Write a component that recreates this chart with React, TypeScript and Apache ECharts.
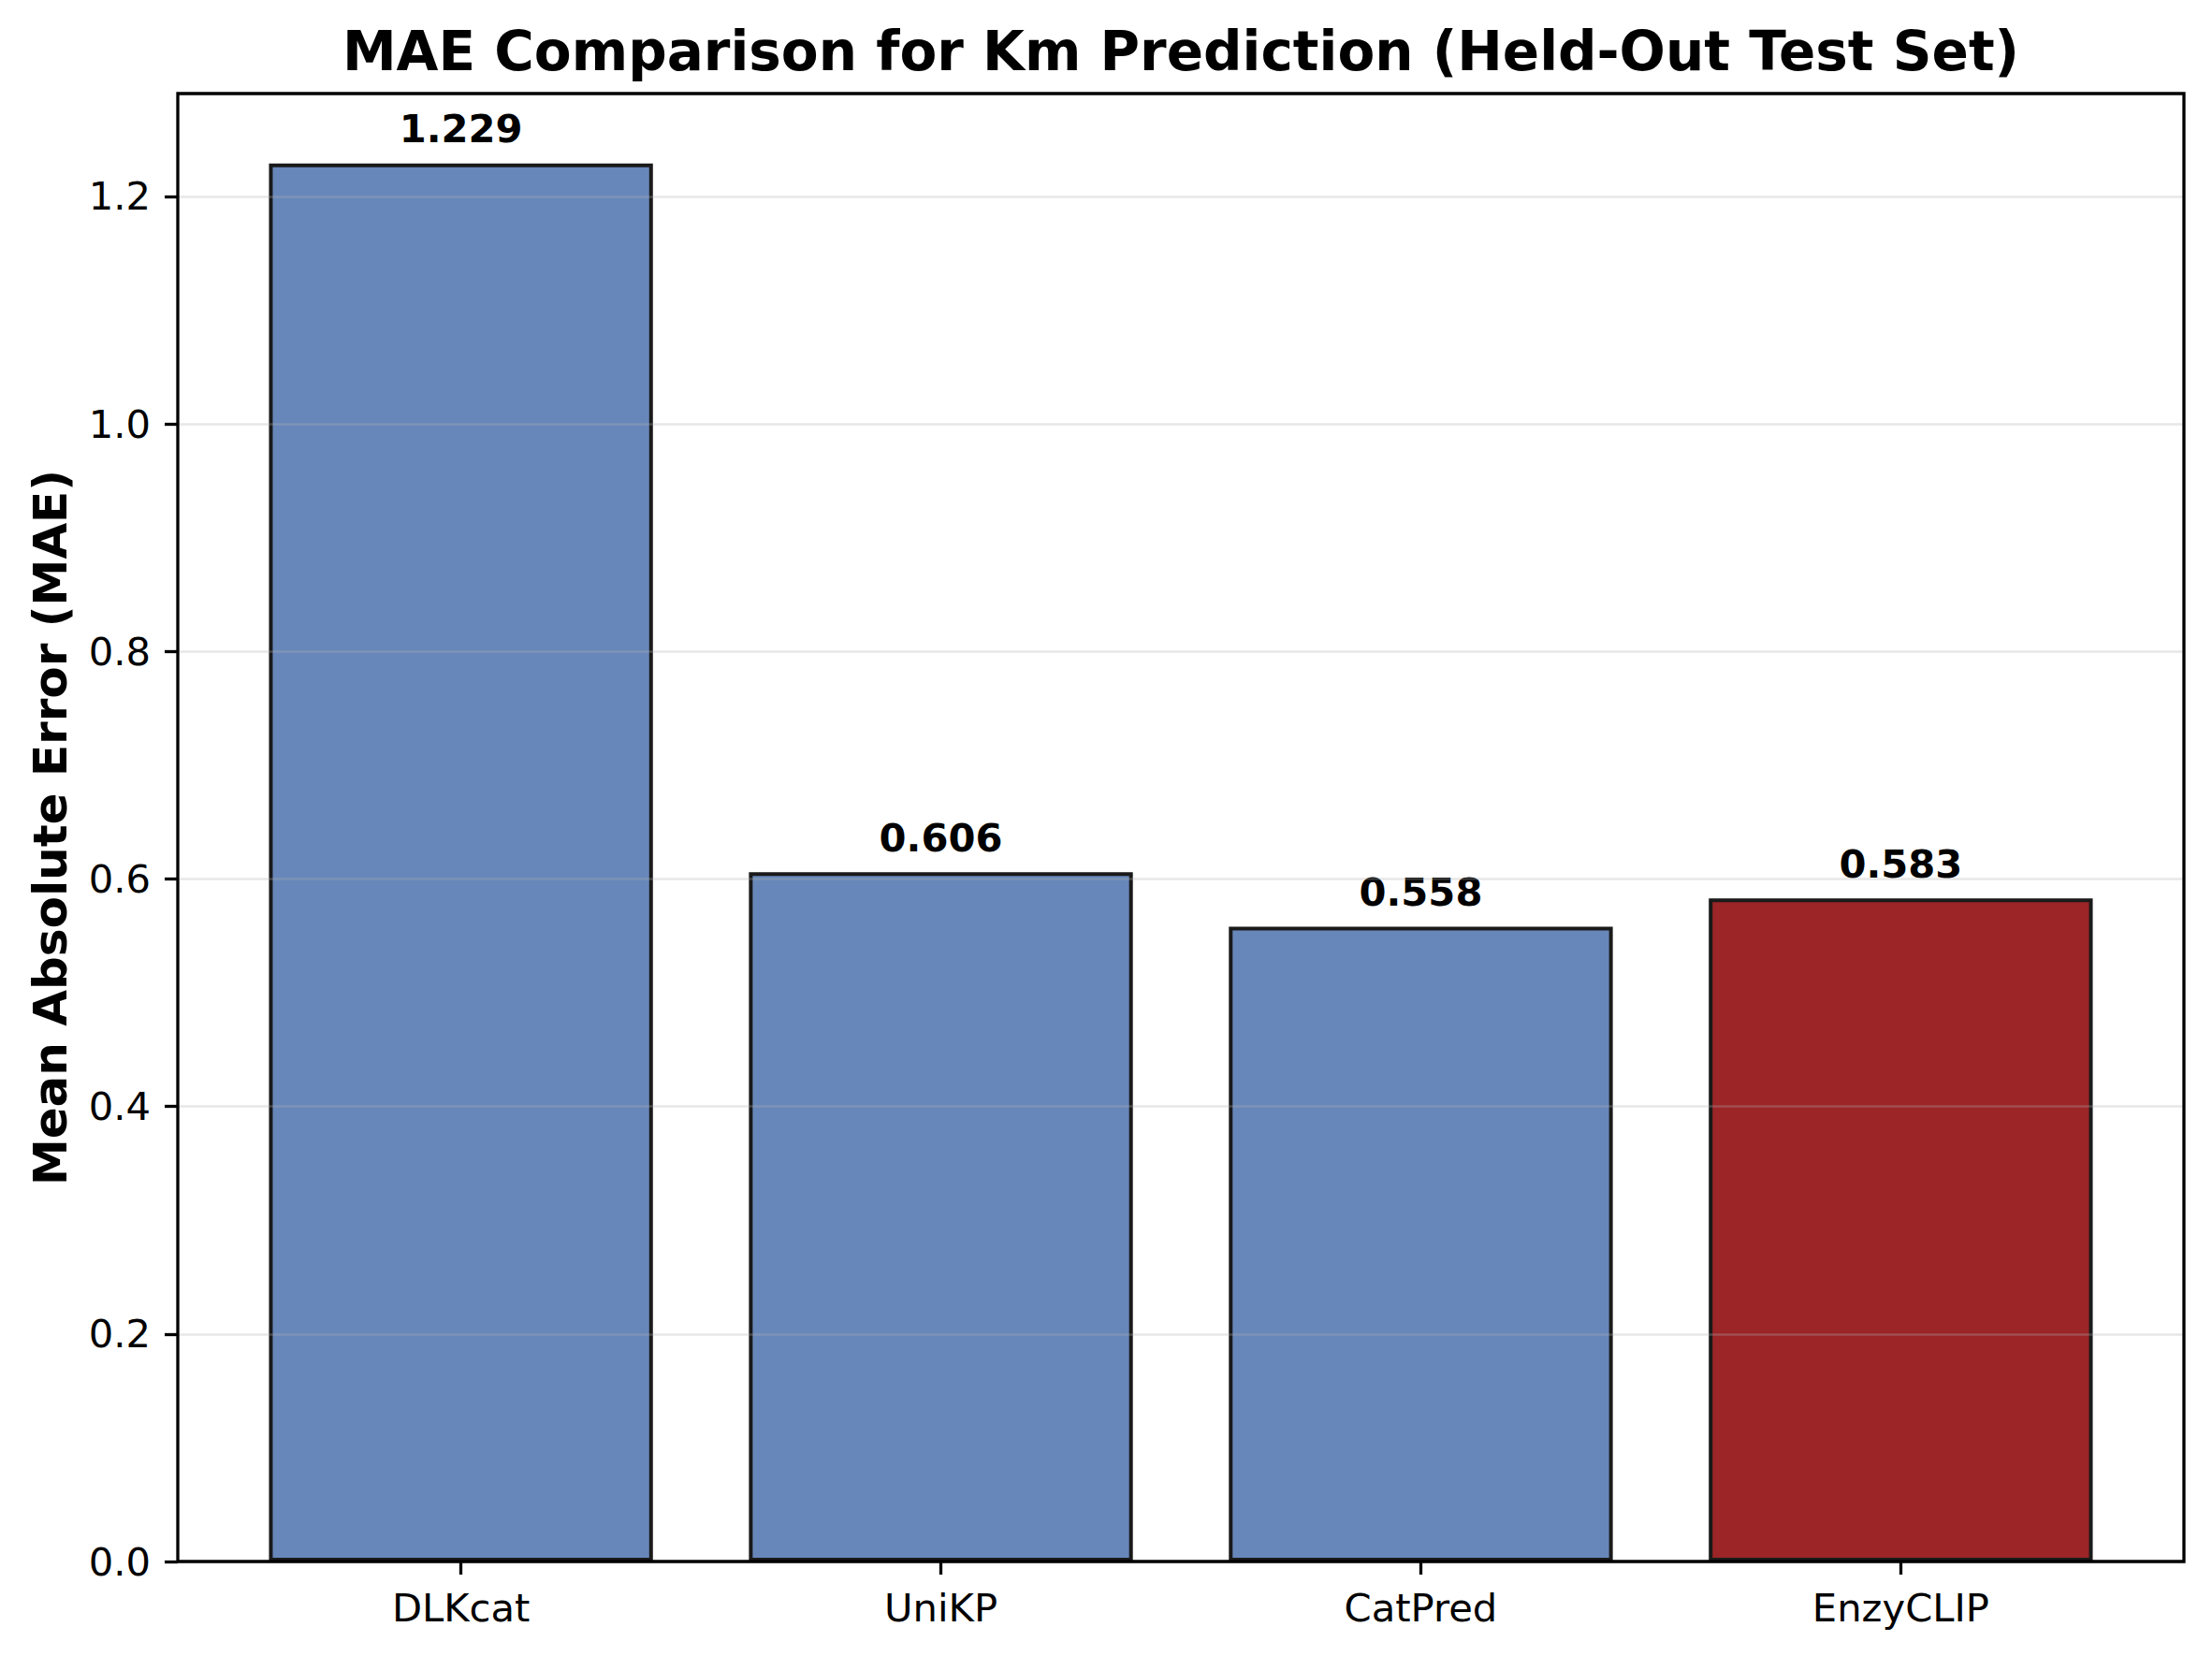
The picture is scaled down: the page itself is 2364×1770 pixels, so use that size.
import React, { useEffect, useRef } from "react";
import * as echarts from "echarts";

const categories = ["DLKcat", "UniKP", "CatPred", "EnzyCLIP"];
const maeValues = [1.229, 0.606, 0.558, 0.583];
const barColors = ["#6787BA", "#6787BA", "#6787BA", "#9B2527"];
const yTicks = [0, 0.2, 0.4, 0.6, 0.8, 1.0, 1.2];
const yMax = 1.29045;
const titleText = "MAE Comparison for Km Prediction (Held-Out Test Set)";
const yAxisTitle = "Mean Absolute Error (MAE)";

export default function App() {
  const ref = useRef<HTMLDivElement>(null);
  useEffect(() => {
    const chart = echarts.init(ref.current!, null, { renderer: "svg" });
    const FONT = "DejaVu Sans";
    const L = 190, T = 100, W = 2144, H = 1569;
    const unit = W / 4.18;
    const option: any = {
      animation: false,
      backgroundColor: "#ffffff",
      grid: [
        { left: L, top: T, width: W, height: H },
        { left: L + 0.09 * unit, top: T, width: 4 * unit, height: H },
      ],
      xAxis: [
        { type: "value", gridIndex: 0, min: 0, max: 1, show: false },
        {
          type: "category",
          gridIndex: 1,
          data: categories,
          axisLine: { show: false },
          axisTick: { show: true, alignWithLabel: true, length: 14, lineStyle: { color: "#000", width: 3.3 } },
          axisLabel: { margin: 28, fontSize: 41.7, fontFamily: FONT, color: "#000" },
          splitLine: { show: false },
        },
      ],
      yAxis: [
        {
          type: "value",
          gridIndex: 0,
          min: 0,
          max: yMax,
          interval: 0.2,
          z: 5,
          axisLine: { show: false },
          axisTick: { show: true, length: 14, customValues: yTicks, lineStyle: { color: "#000", width: 3.3 } },
          axisLabel: {
            customValues: yTicks,
            formatter: (v: number) => v.toFixed(1),
            margin: 29,
            fontSize: 41.7,
            fontFamily: FONT,
            color: "#000",
          },
          splitLine: { show: true, lineStyle: { color: "rgba(176,176,176,0.3)", width: 2.7 } },
        },
        { type: "value", gridIndex: 1, min: 0, max: yMax, show: false },
      ],
      series: [
        {
          type: "bar",
          xAxisIndex: 1,
          yAxisIndex: 1,
          barWidth: "80%",
          z: 2,
          data: maeValues.map((v, i) => ({ value: v, itemStyle: { color: barColors[i] } })),
          itemStyle: { borderColor: "#1a1a1a", borderWidth: 4 },
          label: {
            show: true,
            position: "top",
            distance: 16,
            formatter: (p: any) => Number(p.value).toFixed(3),
            fontSize: 41.7,
            fontWeight: "bold",
            fontFamily: FONT,
            color: "#000",
          },
        },
      ],
      graphic: [
        {
          type: "text",
          x: L + W / 2,
          y: 55,
          silent: true,
          style: {
            text: titleText,
            fill: "#000",
            font: `bold 58px "${FONT}"`,
            align: "center",
            verticalAlign: "middle",
          },
        },
        {
          type: "text",
          x: 54,
          y: T + H / 2,
          rotation: Math.PI / 2,
          silent: true,
          style: {
            text: yAxisTitle,
            fill: "#000",
            font: `bold 50px "${FONT}"`,
            align: "center",
            verticalAlign: "middle",
          },
        },
        {
          type: "rect",
          z: 100,
          silent: true,
          shape: { x: L, y: T, width: W, height: H },
          style: { fill: "none", stroke: "#000", lineWidth: 3.3 },
        },
      ],
    };
    chart.setOption(option);
    return () => chart.dispose();
  }, []);
  return (
    <div
      ref={ref}
      style={{ position: "fixed", left: 0, top: 0, width: 2364, height: 1770, background: "#fff" }}
    />
  );
}
